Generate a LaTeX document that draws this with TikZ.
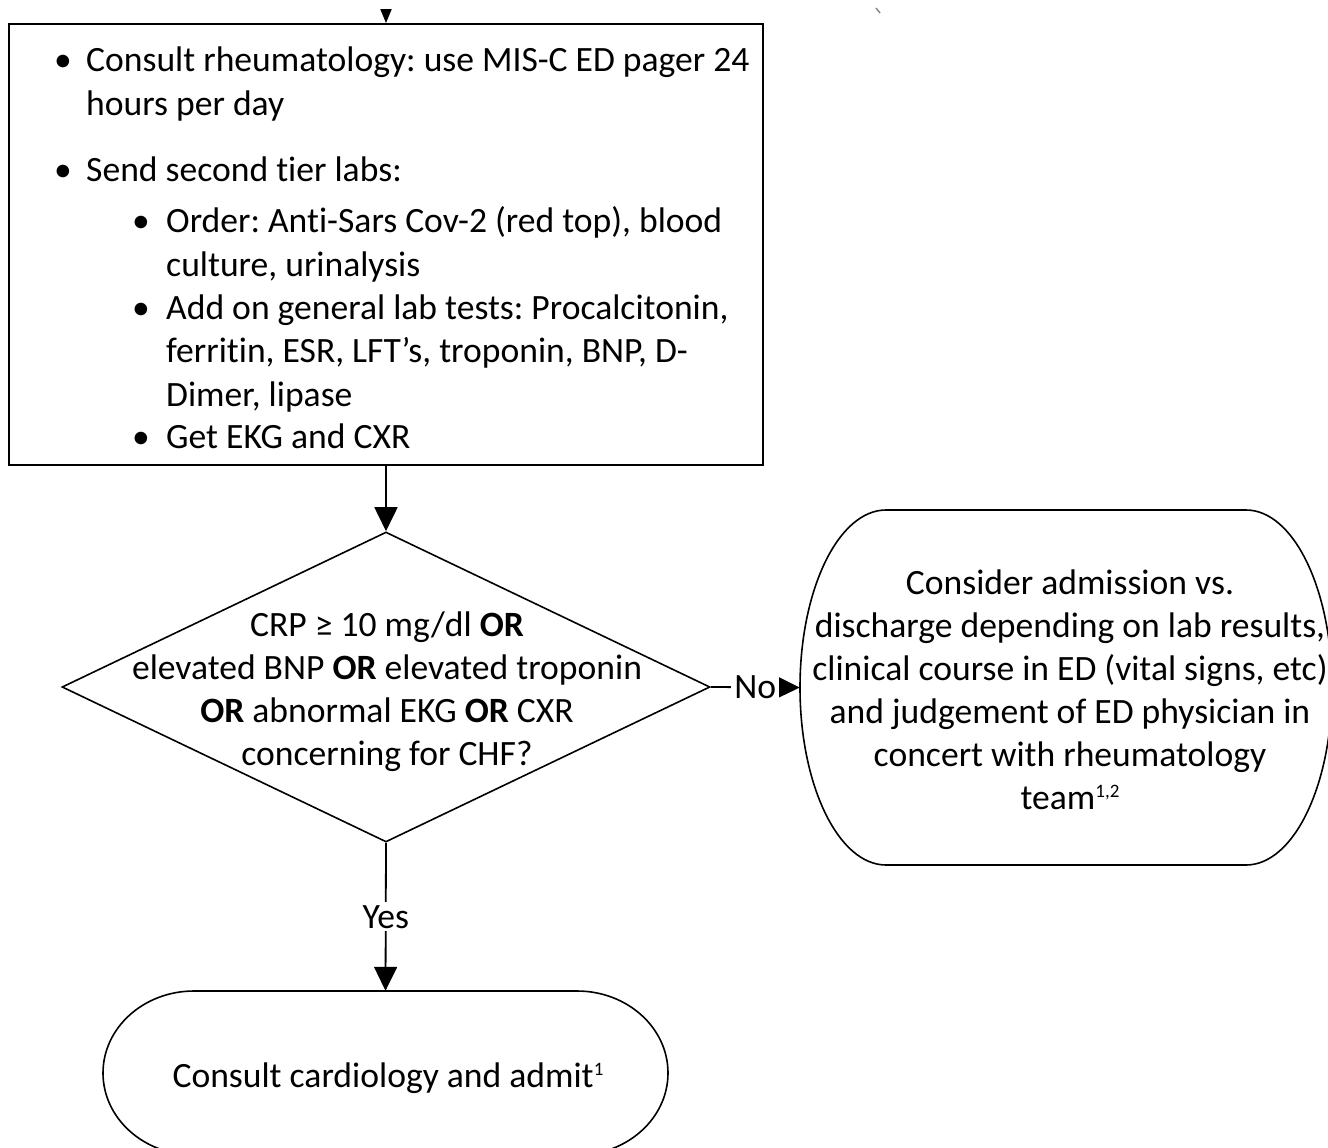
\documentclass[tikz,border=0pt]{standalone}
\usepackage{fontspec}
\setmainfont{Carlito}[Ligatures={NoCommon,NoContextual},Contextuals=NoAlternate]
\usetikzlibrary{arrows.meta,shapes.geometric}
\newcommand{\supx}[1]{{\fontsize{19}{19}\selectfont\raisebox{12pt}{#1}}}
\begin{document}
\frenchspacing
\begin{tikzpicture}[x=1pt,y=-1pt,
  txt/.style={inner sep=0pt,font=\fontsize{35.6}{43}\selectfont},
  ctxt/.style={txt,align=center,anchor=base},
  ltxt/.style={txt,anchor=base west},
  arr/.style={line width=1.8pt,-{Triangle[length=24pt,width=23pt]}},
  lbl/.style={txt,fill=white,inner sep=3pt},
  outl/.style={draw,line width=1.6pt},
]
\useasboundingbox (0,0) rectangle (1328,1148);
% artifact tick
\draw[gray,line width=1.4pt] (876,8) -- (880,13);
% top box
\coordinate (topin) at (386,9);
\node[outl,line width=1.8pt,minimum width=754pt,minimum height=441pt,inner sep=0pt] (box) at (386,244.5) {};
\draw[line width=1.8pt,-{Triangle[length=14pt,width=11pt]}] (topin) -- (box.north);
% bullets
\foreach \y in {72,181} \node[ltxt] at (54,\y) {•};
\foreach \y in {232,319,448} \node[ltxt] at (132,\y) {•};
\node[ltxt] (l1) at (86,72) {Consult rheumatology: use MIS-C ED pager 24};
\node[ltxt] (l2) at (86,115) {hours per day};
\node[ltxt] (l3) at (86,181) {Send second tier labs:};
\node[ltxt] (l4) at (166,232) {Order: Anti-Sars Cov-2 (red top), blood};
\node[ltxt] (l5) at (166,276) {culture, urinalysis};
\node[ltxt] (l6) at (166,319) {Add on general lab tests: Procalcitonin,};
\node[ltxt] (l7) at (166,362) {ferritin, ESR, LFT’s, troponin, BNP, D-};
\node[ltxt] (l8) at (166,406) {Dimer, lipase};
\node[ltxt] (l9) at (166,448) {Get EKG and CXR};
% diamond
\node[outl,shape=diamond,minimum width=648pt,minimum height=310pt,inner sep=0pt] (dia) at (386,687) {};
\node[ctxt] (dtext) at (387,765) {CRP ≥ 10 mg/dl \textbf{OR}\\elevated BNP \textbf{OR} elevated troponin\\\textbf{OR} abnormal EKG \textbf{OR} CXR\\concerning for CHF?};
\draw[arr] (box.south) -- (dia.north);
% right terminator
\node[minimum width=532pt,minimum height=355pt,inner sep=0pt] (cons) at (1066,687.5) {};
\draw[line width=1.6pt] (886,510) arc[start angle=270,end angle=90,x radius=86,y radius=177.5]
  -- (1246,865) arc[start angle=90,end angle=-90,x radius=86,y radius=177.5] -- cycle;
\node[ctxt] (ctext) at (1070,809) {Consider admission vs.\\discharge depending on lab results,\\clinical course in ED (vital signs, etc)\\and judgement of ED physician in\\concert with rheumatology\\team\supx{1,2}};
\draw[arr] (dia.east) -- node[lbl] (no) {No} (cons.west);
% bottom terminator
\node[minimum width=565pt,minimum height=164pt,inner sep=0pt] (adm) at (385.5,1073) {};
\draw[line width=1.6pt] (194,991) arc[start angle=270,end angle=90,x radius=91,y radius=82]
  -- (577,1155) arc[start angle=90,end angle=-90,x radius=91,y radius=82] -- cycle;
\node[ctxt] (atext) at (388,1087) {Consult cardiology and admit\supx{1}};
\draw[arr] (dia.south) -- node[lbl,pos=0.5] (yes) {Yes} (adm.north);
\end{tikzpicture}
\end{document}
